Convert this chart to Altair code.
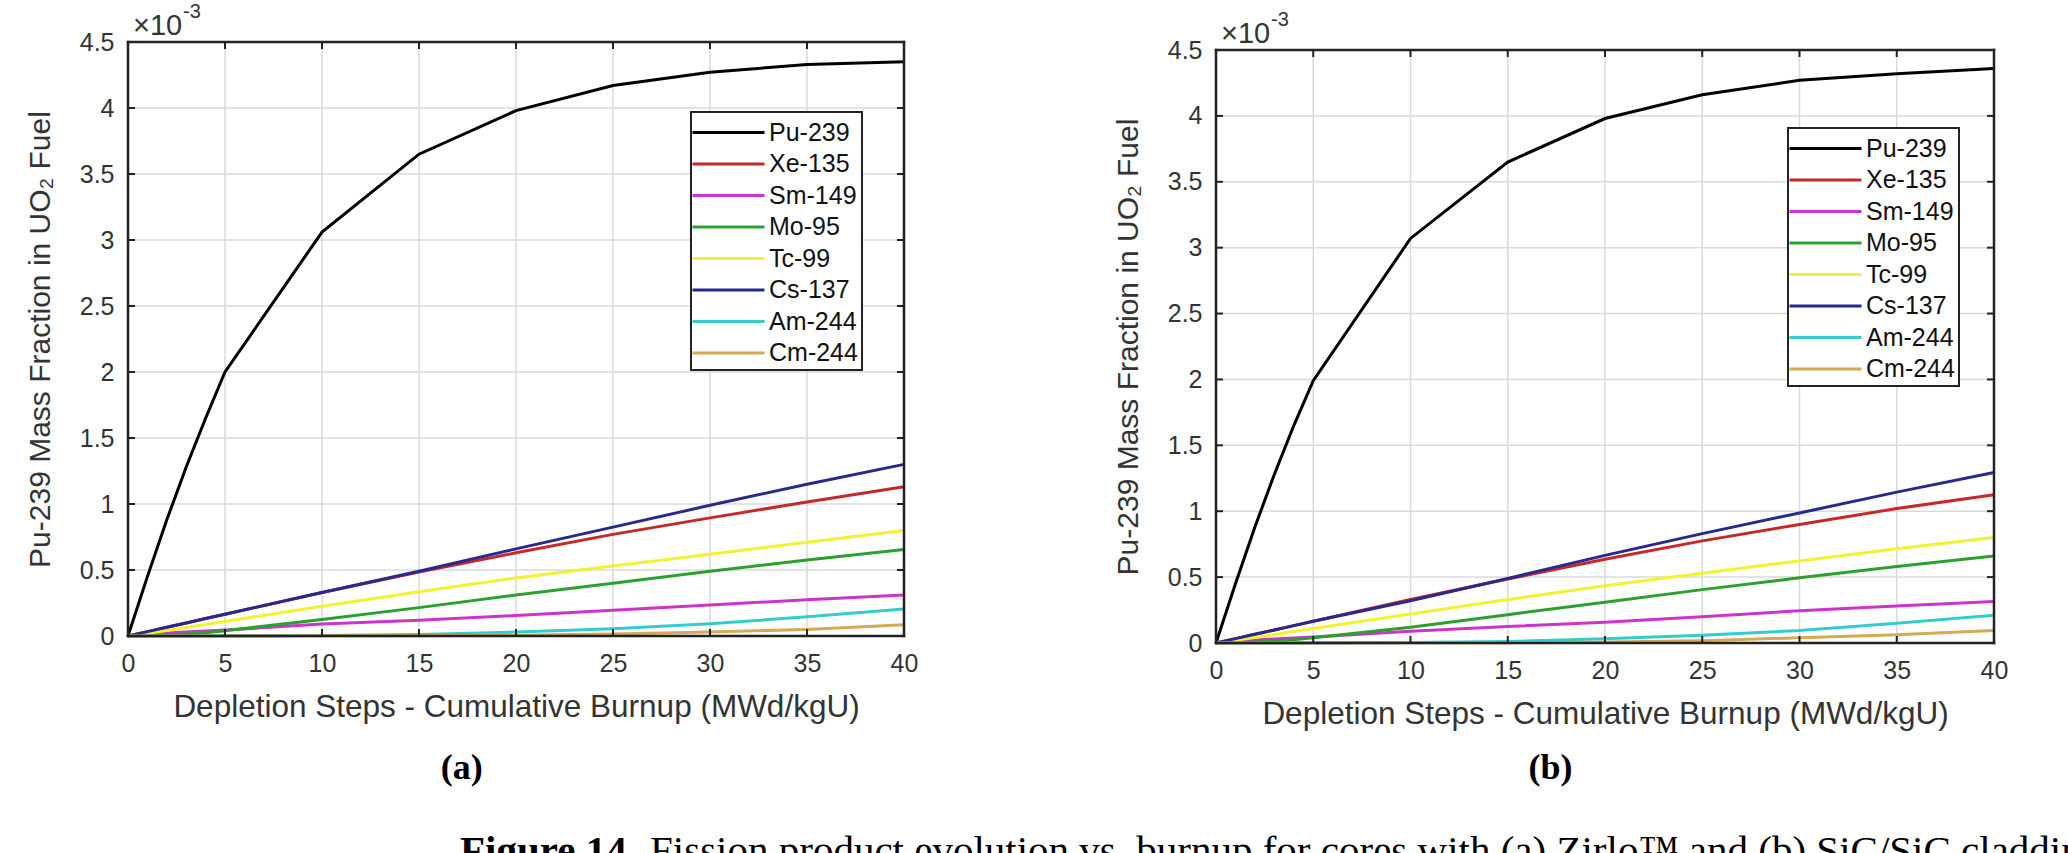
import altair as alt
import pandas as pd

# Depletion steps (cumulative burnup, MWd/kgU)
BURNUP = [0, 1, 2, 3, 4, 5, 10, 15, 20, 25, 30, 35, 40]

NUCLIDES = ["Pu-239", "Xe-135", "Sm-149", "Mo-95", "Tc-99", "Cs-137", "Am-244", "Cm-244"]
COLORS = ["#000000", "#c62828", "#cc33cc", "#2ca02c", "#f2f230", "#28288f", "#33cccc", "#d4aa55"]

# (a) Zirlo cladding - mass fraction in UO2 fuel, units of 1e-3
A_PU239 = [0, 0.45, 0.88, 1.28, 1.65, 2.00, 3.06, 3.65, 3.98, 4.17, 4.27, 4.33, 4.35]
A_XE135 = [0, 0.033, 0.066, 0.099, 0.132, 0.165, 0.33, 0.485, 0.63, 0.77, 0.895, 1.015, 1.13]
A_SM149 = [0, 0.012, 0.022, 0.031, 0.038, 0.045, 0.09, 0.12, 0.155, 0.195, 0.235, 0.275, 0.31]
A_MO95 = [0, 0.002, 0.007, 0.015, 0.025, 0.04, 0.125, 0.215, 0.31, 0.40, 0.49, 0.575, 0.655]
A_TC99 = [0, 0.02, 0.042, 0.064, 0.087, 0.11, 0.225, 0.335, 0.44, 0.53, 0.62, 0.71, 0.80]
A_CS137 = [0, 0.033, 0.066, 0.099, 0.132, 0.165, 0.33, 0.49, 0.66, 0.825, 0.99, 1.15, 1.30]
A_AM244 = [0, 0, 0, 0, 0, 0.001, 0.004, 0.012, 0.03, 0.055, 0.092, 0.145, 0.205]
A_CM244 = [0, 0, 0, 0, 0, 0, 0.001, 0.002, 0.006, 0.015, 0.03, 0.05, 0.085]

# (b) SiC/SiC cladding - mass fraction in UO2 fuel, units of 1e-3
B_PU239 = [0, 0.45, 0.88, 1.28, 1.65, 1.99, 3.07, 3.65, 3.98, 4.16, 4.27, 4.32, 4.36]
B_XE135 = [0, 0.033, 0.066, 0.099, 0.132, 0.165, 0.33, 0.485, 0.635, 0.775, 0.9, 1.02, 1.125]
B_SM149 = [0, 0.012, 0.022, 0.031, 0.038, 0.045, 0.09, 0.125, 0.158, 0.2, 0.245, 0.28, 0.314]
B_MO95 = [0, 0.002, 0.007, 0.015, 0.025, 0.04, 0.12, 0.215, 0.31, 0.405, 0.495, 0.58, 0.66]
B_TC99 = [0, 0.02, 0.042, 0.064, 0.087, 0.11, 0.22, 0.33, 0.435, 0.53, 0.623, 0.715, 0.80]
B_CS137 = [0, 0.033, 0.066, 0.099, 0.132, 0.165, 0.32, 0.49, 0.665, 0.83, 0.987, 1.145, 1.294]
B_AM244 = [0, 0, 0, 0, 0, 0.001, 0.004, 0.012, 0.033, 0.058, 0.095, 0.15, 0.21]
B_CM244 = [0, 0, 0, 0, 0, 0, 0.001, 0.002, 0.007, 0.017, 0.04, 0.062, 0.095]

X_TICKS = [0, 5, 10, 15, 20, 25, 30, 35, 40]
Y_TICKS = [0, 0.5, 1, 1.5, 2, 2.5, 3, 3.5, 4, 4.5]

X_TITLE = "Depletion Steps - Cumulative Burnup (MWd/kgU)"
Y_TITLE = "Pu-239 Mass Fraction in UO\u2082 Fuel"
CAPTION_HEAD = "Figure 14."
CAPTION_BODY = ("Fission product evolution vs. burnup for cores with (a) Zirlo\u2122 "
                "and (b) SiC/SiC cladding.")

SANS = "Liberation Sans"
SERIF = "Liberation Serif"
INK = "#333333"
BOX = "#222222"
GRID = "#dadada"


def long_table(series):
    rows = []
    for name, values in zip(NUCLIDES, series):
        for b, v in zip(BURNUP, values):
            rows.append({"nuclide": name, "burnup": b, "frac": v})
    return pd.DataFrame(rows)


def note(text, x, y, size, font=SANS, weight="normal", align="left", color=INK, limit=0):
    return alt.Chart(pd.DataFrame({"label": [text]})).mark_text(
        align=align, baseline="alphabetic", font=font, fontSize=size,
        fontWeight=weight, color=color, limit=limit, ellipsis=""
    ).encode(x=alt.value(x), y=alt.value(y), text="label:N")


def panel(series, width, height, top, legend_x, legend_y, tag, extra=()):
    xs = alt.Scale(domain=[0, 40], nice=False, zero=False)
    ys = alt.Scale(domain=[0, 4.5], nice=False, zero=False, range=[height, top])
    x_axis = alt.Axis(
        values=X_TICKS, title=X_TITLE, domain=False, ticks=False, grid=False,
        labelFont=SANS, labelFontSize=25, labelColor=INK, labelPadding=15,
        labelFlush=False, labelOverlap=False,
        titleFont=SANS, titleFontSize=31.5, titleFontWeight="normal", titleColor=INK,
        titleY=80, titleBaseline="alphabetic",
    )
    y_axis = alt.Axis(
        values=Y_TICKS, title=Y_TITLE, format="~g", domain=False, ticks=False, grid=False,
        labelFont=SANS, labelFontSize=25, labelColor=INK, labelPadding=14,
        labelFlush=False, labelOverlap=False,
        titleFont=SANS, titleFontSize=30, titleFontWeight="normal", titleColor=INK,
        titleX=-79, titleY=(top + height) / 2, titleAngle=270, titleBaseline="alphabetic",
    )

    def X(field):
        return alt.X(field, type="quantitative", scale=xs, axis=x_axis)

    def Y(field):
        return alt.Y(field, type="quantitative", scale=ys, axis=y_axis)

    grid_v = alt.Chart(pd.DataFrame({"g": X_TICKS[1:-1], "lo": 0.0, "hi": 4.5})).mark_rule(
        color=GRID, strokeWidth=1.5
    ).encode(x=X("g"), y=Y("lo"), y2="hi")
    grid_h = alt.Chart(pd.DataFrame({"g": Y_TICKS[1:-1], "lo": 0.0, "hi": 40.0})).mark_rule(
        color=GRID, strokeWidth=1.5
    ).encode(y=Y("g"), x=X("lo"), x2="hi")

    lines = alt.Chart(long_table(series)).mark_line(strokeWidth=3).encode(
        x=X("burnup"),
        y=Y("frac"),
        color=alt.Color(
            "nuclide:N",
            scale=alt.Scale(domain=NUCLIDES, range=COLORS),
            sort=NUCLIDES,
            legend=alt.Legend(
                title=None, orient="none", legendX=legend_x, legendY=legend_y,
                symbolType="M-2.4,0L2.4,0", symbolSize=900, symbolStrokeWidth=3,
                symbolOffset=17, labelOffset=24,
                labelExpr="datum.label + '\u00a0\u00a0\u00a0'",
                labelFont=SANS, labelFontSize=25, labelColor="#111111",
                padding=4, rowPadding=1.5, strokeColor=BOX, fillColor="white",
            ),
        ),
    )

    box = alt.Chart(pd.DataFrame({
        "x0": [0, 40, 0, 0], "x1": [0, 40, 40, 40],
        "y0": [0, 0, 0, 4.5], "y1": [4.5, 4.5, 0, 4.5],
    })).mark_rule(color=BOX, strokeWidth=2.5, strokeCap="square").encode(
        x=X("x0"), x2="x1", y=Y("y0"), y2="y1"
    )

    inner_x = pd.DataFrame({"t": X_TICKS[1:-1]})
    inner_y = pd.DataFrame({"t": Y_TICKS[1:-1]})
    tick_style = dict(color=BOX, strokeWidth=2)
    ticks = [
        alt.Chart(inner_x).mark_rule(**tick_style).encode(
            x=X("t"), y=alt.value(height), y2=alt.value(height - 7)),
        alt.Chart(inner_x).mark_rule(**tick_style).encode(
            x=X("t"), y=alt.value(top), y2=alt.value(top + 7)),
        alt.Chart(inner_y).mark_rule(**tick_style).encode(
            y=Y("t"), x=alt.value(0), x2=alt.value(7)),
        alt.Chart(inner_y).mark_rule(**tick_style).encode(
            y=Y("t"), x=alt.value(width), x2=alt.value(width - 7)),
    ]

    multiplier = [
        note("\u00d710", 5, top - 7, 29),
        note("-3", 55, top - 24, 20),
    ]
    label = note(tag, width * 0.43, 737, 36, font=SERIF, weight="bold",
                 align="center", color="#000000")

    return alt.layer(grid_v, grid_h, lines, box, *ticks, *multiplier, label, *extra).properties(
        width=width, height=height
    )


# caption runs past the right and bottom edges of the page and is cut there
caption = [
    note(CAPTION_HEAD, 332, 822, 41, font=SERIF, weight="bold", color="#000000"),
    note(CAPTION_BODY, 522, 822, 41, font=SERIF, color="#000000", limit=1470),
]

pa = panel([A_PU239, A_XE135, A_SM149, A_MO95, A_TC99, A_CS137, A_AM244, A_CM244],
           776, 594, 0, 563, 70, "(a)", extra=caption)
pb = panel([B_PU239, B_XE135, B_SM149, B_MO95, B_TC99, B_CS137, B_AM244, B_CM244],
           778, 601, 8, 572, 86, "(b)")

chart = alt.hconcat(pa, pb, spacing=312, bounds="flush").resolve_scale(
    color="independent"
).properties(
    padding={"left": 24, "top": 1, "right": -45, "bottom": -15}
).configure_view(stroke="transparent").configure_legend(strokeWidth=2)

chart.save("out.html", embed_options={"renderer": "svg", "actions": False})
